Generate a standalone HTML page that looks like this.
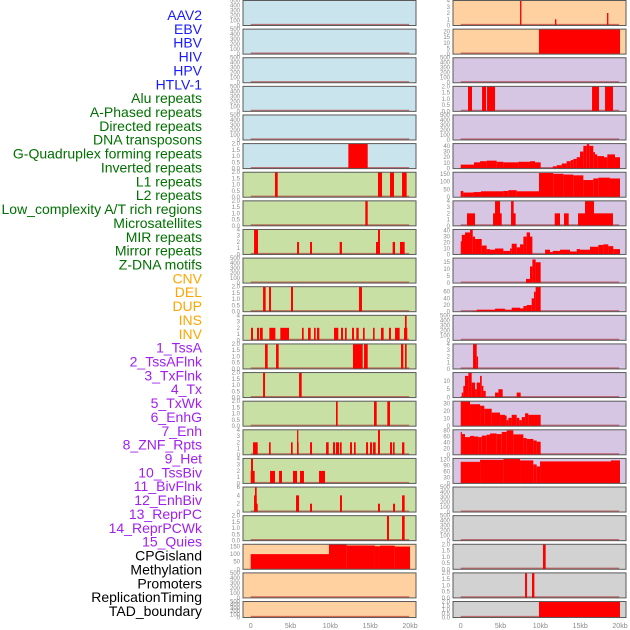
<!DOCTYPE html>
<html><head><meta charset="utf-8"><style>
html,body{margin:0;padding:0;background:#fff;}
svg{display:block;font-family:"Liberation Sans",sans-serif;}
</style></head><body>
<svg id="chart" width="630" height="630" viewBox="0 0 630 630" xmlns="http://www.w3.org/2000/svg"></svg>
<script>
// ---- data (positions in kb, values as track counts) ----
const trackNames = ["AAV2","EBV","HBV","HIV","HPV","HTLV-1","Alu repeats","A-Phased repeats","Directed repeats","DNA transposons","G-Quadruplex forming repeats","Inverted repeats","L1 repeats","L2 repeats","Low_complexity A/T rich regions","Microsatellites","MIR repeats","Mirror repeats","Z-DNA motifs","CNV","DEL","DUP","INS","INV","1_TssA","2_TssAFlnk","3_TxFlnk","4_Tx","5_TxWk","6_EnhG","7_Enh","8_ZNF_Rpts","9_Het","10_TssBiv","11_BivFlnk","12_EnhBiv","13_ReprPC","14_ReprPCWk","15_Quies","CPGisland","Methylation","Promoters","ReplicationTiming","TAD_boundary"];
const xTicks = [0,5,10,15,20];
const xTickLabels = ["0","5kb","10kb","15kb","20kb"];
const emptyTicks = [0,100,200,300,400,500];
// per-track y maxima
const yMax = {"HTLV-1":2,"Alu repeats":2,"A-Phased repeats":2,"Directed repeats":4,"G-Quadruplex forming repeats":2,"Inverted repeats":4,"L1 repeats":2,"L2 repeats":2,"Low_complexity A/T rich regions":2,"Microsatellites":4,"MIR repeats":4,"Mirror repeats":6,"Z-DNA motifs":2,"CNV":165,"INS":4,"INV":22,"2_TssAFlnk":2,"4_Tx":44,"5_TxWk":160,"6_EnhG":4,"7_Enh":42,"8_ZNF_Rpts":18,"9_Het":75,"11_BivFlnk":4,"12_EnhBiv":15,"13_ReprPC":33,"14_ReprPCWk":82,"15_Quies":125,"Promoters":2,"ReplicationTiming":2,"TAD_boundary":2};
const yTicks = {"HTLV-1":[0,0.5,1,1.5,2],"Alu repeats":[0,0.5,1,1.5,2],"A-Phased repeats":[0,0.5,1,1.5,2],"Directed repeats":[0,1,2,3,4],"G-Quadruplex forming repeats":[0,0.5,1,1.5,2],"Inverted repeats":[0,1,2,3,4],"L1 repeats":[0,0.5,1,1.5,2],"L2 repeats":[0,0.5,1,1.5,2],"Low_complexity A/T rich regions":[0,0.5,1,1.5,2],"Microsatellites":[0,1,2,3,4],"MIR repeats":[0,1,2,3,4],"Mirror repeats":[0,2,4,6],"Z-DNA motifs":[0,0.5,1,1.5,2],"CNV":[0,50,100,150],"INS":[0,1,2,3,4],"INV":[0,5,10,15,20],"2_TssAFlnk":[0,0.5,1,1.5,2],"4_Tx":[0,10,20,30,40],"5_TxWk":[0,50,100,150],"6_EnhG":[0,1,2,3,4],"7_Enh":[0,10,20,30,40],"8_ZNF_Rpts":[0,5,10,15],"9_Het":[0,20,40,60],"11_BivFlnk":[0,1,2,3,4],"12_EnhBiv":[0,5,10],"13_ReprPC":[0,10,20,30],"14_ReprPCWk":[0,20,40,60,80],"15_Quies":[0,30,60,90,120],"Promoters":[0,0.5,1,1.5,2],"ReplicationTiming":[0,0.5,1,1.5,2],"TAD_boundary":[0,0.5,1,1.5,2]};
// bars: [startKb, endKb, value]
const barsHTLV1 = [[12.26,14.69,2]];
const barsAlu = [[3.05,3.39,2],[15.98,16.49,2],[17.49,17.99,2],[19.0,19.58,2]];
const barsAPhased = [[14.39,14.69,2]];
const barsDirected = [[0.42,0.92,4],[5.82,6.07,2],[7.45,7.7,2],[11.17,11.46,2],[15.73,16.07,2],[15.98,16.23,4],[17.82,18.12,2],[18.74,19.33,2]];
const barsGQuad = [[1.55,1.88,2],[2.3,2.55,2],[5.06,5.31,2],[13.6,13.97,2]];
const barsInverted = [[0.04,0.29,2],[0.79,1.05,2],[1.17,1.51,2],[2.34,3.1,2],[3.72,4.81,2],[6.44,6.65,2],[7.2,7.53,2],[7.95,8.16,2],[8.33,8.62,2],[10.46,11.0,2],[11.34,11.59,2],[11.84,12.05,2],[12.72,12.97,2],[13.26,13.56,2],[14.1,14.31,2],[15.36,15.56,2],[16.36,16.69,2],[17.36,17.61,2],[18.12,18.7,2],[19.25,19.66,2],[19.37,19.58,4]];
const barsL1 = [[1.8,2.13,2],[3.18,3.51,2],[12.84,14.06,2],[14.23,14.69,2],[18.87,19.16,2],[19.37,19.58,2]];
const barsL2 = [[1.55,1.8,2],[6.07,6.4,2]];
const barsLowComplexity = [[10.71,10.92,2],[15.48,15.82,2],[17.15,17.49,2]];
const barsMicrosat = [[0.29,0.88,2],[2.3,2.51,2],[5.06,5.27,2],[5.82,6.02,2],[5.82,5.98,4],[7.45,7.7,2],[9.46,9.79,2],[10.33,10.59,2],[10.71,11.09,2],[11.21,11.42,2],[12.47,12.72,2],[12.97,13.18,2],[14.48,14.73,2],[14.98,15.23,2],[15.36,15.69,2],[15.98,16.23,4],[17.49,17.74,2],[17.87,18.07,2],[19.0,19.29,2]];
const barsMIR = [[0,0.5,2],[0.04,0.29,4],[2.43,3.05,2],[3.56,3.93,2],[5.31,5.82,2],[6.19,6.69,2],[8.58,9.33,2]];
const barsMirror = [[0.42,0.75,4],[0.54,0.75,6],[0.67,0.88,2],[5.69,6.07,4],[7.45,7.7,2],[11.21,11.46,4],[15.98,16.23,2],[17.87,18.12,2],[19.0,19.33,4]];
const barsZDNA = [[17.11,17.36,2],[19.0,19.33,2]];
const barsCNV = [[0,9.83,100],[9.83,12.05,165],[12.05,15.6,157],[15.6,16.23,152],[16.23,18.1,156],[18.1,20,150]];
const barsINS = [[7.45,7.62,4],[11.84,12.01,1],[18.37,18.54,2]];
const barsINV = [[9.83,20,22]];
const barsTssAFlnk = [[0.92,1.42,2],[2.68,3.18,2],[3.31,4.31,2],[16.49,17.36,2],[18.12,19.12,2]];
const barsTx = [[0,1.67,7],[1.67,2.43,11],[2.43,3.26,13],[3.26,4.52,14],[4.52,5.36,12],[5.36,7.24,11],[7.24,8.7,12],[8.7,9.33,13],[9.33,10.04,11],[11.55,12.05,4],[12.05,12.68,6],[12.68,13.3,9],[13.3,13.81,13],[13.81,14.14,15],[14.14,14.56,17],[14.56,14.98,20],[14.98,15.4,30],[15.4,15.82,40],[15.82,16.15,43],[16.15,16.65,40],[16.65,16.86,29],[16.86,17.15,25],[17.15,17.99,22],[17.99,18.41,20],[18.41,19.37,25],[19.37,20,20]];
const barsTxWk = [[0,0.33,40],[0.33,1.59,30],[1.59,2.55,33],[2.55,5.36,38],[5.36,5.98,40],[5.98,7.03,45],[7.03,9.83,38],[9.83,11.63,155],[11.63,12.89,150],[12.89,14.14,145],[14.14,15.4,140],[15.4,16.65,110],[16.65,17.28,120],[17.28,18.74,125],[18.74,20,120]];
const barsEnhG = [[0.79,1.8,2],[4.06,5.15,2],[4.31,4.94,4],[6.32,6.9,2],[6.32,6.65,4],[11.8,12.47,2],[12.97,13.56,2],[14.73,19.12,2],[15.61,16.74,4]];
const barsEnh = [[0,0.13,22],[0.13,0.54,33],[0.54,1.17,37],[1.17,1.51,42],[1.51,1.8,30],[1.8,2.64,26],[2.64,3.26,15],[3.26,3.68,9],[3.68,4.31,8],[4.31,5.36,10],[5.36,6.19,6],[6.19,6.4,10],[6.4,7.03,18],[7.03,7.45,12],[7.45,7.87,17],[7.87,8.28,30],[8.28,8.7,37],[8.7,9.0,30],[10.59,11.21,8],[11.21,11.72,4],[11.55,12.47,6],[12.47,13.72,8],[13.72,14.56,5],[14.56,14.98,9],[14.98,16.23,8],[16.23,17.28,13],[17.28,17.91,16],[17.91,18.54,17],[18.54,19.16,14],[19.16,20,9]];
const barsZNF = [[8.2,8.7,3],[8.7,9.0,12],[9.0,9.41,17],[9.41,10.04,15]];
const barsHet = [[1.38,2.01,2],[2.01,4.31,6],[4.31,5.56,9],[5.56,6.4,6],[6.4,7.45,12],[7.45,7.87,10],[7.87,8.28,17],[8.28,8.91,20],[8.91,9.2,40],[9.2,9.41,60],[9.41,10.04,75]];
const barsBivFlnk = [[1.55,2.01,4],[2.01,2.18,2]];
const barsEnhBiv = [[0.13,0.33,3],[0.33,0.54,7],[0.54,0.96,13],[0.96,1.38,15],[1.38,1.8,9],[1.8,2.01,5],[2.01,2.43,9],[2.43,2.64,13],[2.64,2.85,7],[2.85,3.14,4],[4.31,4.73,3],[4.73,5.27,5],[7.03,7.53,3]];
const barsReprPC = [[0,1.17,33],[1.17,2.43,29],[2.43,2.97,27],[2.97,3.89,23],[3.89,4.94,18],[4.94,5.56,15],[5.56,5.77,14],[5.77,5.98,8],[5.98,6.4,11],[6.4,7.03,15],[7.03,7.36,11],[7.36,7.66,8],[7.66,8.08,12],[8.08,8.49,17],[8.49,10.04,15]];
const barsReprPCWk = [[0,0.13,75],[0.13,0.54,68],[0.54,1.17,58],[1.17,1.67,62],[1.67,2.22,60],[2.22,2.64,58],[2.64,3.26,63],[3.26,3.68,66],[3.68,4.52,70],[4.52,5.15,68],[5.15,5.77,75],[5.77,6.61,80],[6.61,7.87,67],[7.87,8.28,55],[8.28,9.12,52],[9.12,9.54,47],[9.54,10.04,43]];
const barsQuies = [[0,2.43,108],[2.43,5.36,118],[5.36,7.45,122],[7.45,9.12,115],[9.12,9.54,95],[9.54,9.96,85],[9.96,18.87,110],[18.87,20,115]];
const barsPromoters = [[10.33,10.67,2]];
const barsReplication = [[8.08,8.33,2],[8.95,9.25,2]];
const barsTAD = [[9.83,20,2]];
const trackBars = {"HTLV-1":barsHTLV1,"Alu repeats":barsAlu,"A-Phased repeats":barsAPhased,"Directed repeats":barsDirected,"G-Quadruplex forming repeats":barsGQuad,"Inverted repeats":barsInverted,"L1 repeats":barsL1,"L2 repeats":barsL2,"Low_complexity A/T rich regions":barsLowComplexity,"Microsatellites":barsMicrosat,"MIR repeats":barsMIR,"Mirror repeats":barsMirror,"Z-DNA motifs":barsZDNA,"CNV":barsCNV,"INS":barsINS,"INV":barsINV,"2_TssAFlnk":barsTssAFlnk,"4_Tx":barsTx,"5_TxWk":barsTxWk,"6_EnhG":barsEnhG,"7_Enh":barsEnh,"8_ZNF_Rpts":barsZNF,"9_Het":barsHet,"11_BivFlnk":barsBivFlnk,"12_EnhBiv":barsEnhBiv,"13_ReprPC":barsReprPC,"14_ReprPCWk":barsReprPCWk,"15_Quies":barsQuies,"Promoters":barsPromoters,"ReplicationTiming":barsReplication,"TAD_boundary":barsTAD};

// ---- drawing ----
const NS = "http://www.w3.org/2000/svg";
const svg = document.getElementById("chart");
function mk(tag, attrs, parent){
  const e = document.createElementNS(NS, tag);
  for (const k in attrs) e.setAttribute(k, attrs[k]);
  (parent||svg).appendChild(e);
  return e;
}
function groupColor(i){
  if (i<6) return "#1a1aff";
  if (i<19) return "#007000";
  if (i<24) return "#ffa500";
  if (i<39) return "#a020f0";
  return "#000000";
}
function bgColor(i){
  if (i<6) return "#c9e4ec";
  if (i<19) return "#c8e0a4";
  if (i<24) return "#ffd0a0";
  if (i<39) return "#d6c6e4";
  return "#d2d2d2";
}
// left-side labels
trackNames.forEach((n,i)=>{
  const t = mk("text",{x:202,y:20+i*13.86,"text-anchor":"end","font-size":"14",fill:groupColor(i)});
  
  
  t.textContent = n;
});
const colX = [243,453];
const plotW = 173;
function xScale(col, kb){ return colX[col] + 7.7 + kb*7.965; }
trackNames.forEach((n,i)=>{
  const col = i<22 ? 0 : 1;
  const row = i%22;
  const top = 0.5 + row*28.62;
  const h = row===21 ? 16 : 25;
  const g = mk("g",{});
  
  
  const bg = mk("rect",{x:colX[col],y:top,width:plotW,height:h,fill:bgColor(i)},g);
  
  
  const bars = trackBars[n] || [];
  const ym = yMax[n] || 500;
  const ticks = yTicks[n] || emptyTicks;
  const yScale = v => top + h - Math.min(v,ym)/ym*h;
  // baseline
  const bl = mk("line",{x1:xScale(col,0),x2:xScale(col,19.9),y1:top+h-0.8,y2:top+h-0.8,stroke:"rgba(170,20,20,0.55)","stroke-width":1.6},g);
  
  
  bars.forEach(b=>{
    const x1 = xScale(col,b[0]), x2 = xScale(col,b[1]);
    const y = yScale(b[2]);
    const r = mk("rect",{x:x1,y:y,width:Math.max(1.2,x2-x1),height:top+h-y,fill:"#ff0000"},g);
    
    
  });
  const fr = mk("rect",{x:colX[col],y:top,width:plotW,height:h,fill:"none",stroke:"#5a5a5a","stroke-width":1},g);
  
  
  ticks.forEach(tv=>{
    const tt = mk("text",{x:colX[col]-3,y:yScale(tv)+2,"text-anchor":"end","font-size":"6",fill:"#8a8a8a"},g);
    
    
    tt.textContent = (ym<=2) ? tv.toFixed(1) : String(tv);
  });
});
// x axes
[0,1].forEach(col=>{
  xTicks.forEach((v,j)=>{
    const t = mk("text",{x:xScale(col,v),y:628,"text-anchor":"middle","font-size":"7",fill:"#8a8a8a"});
    
    
    t.textContent = xTickLabels[j];
  });
});
</script>
</body></html>
